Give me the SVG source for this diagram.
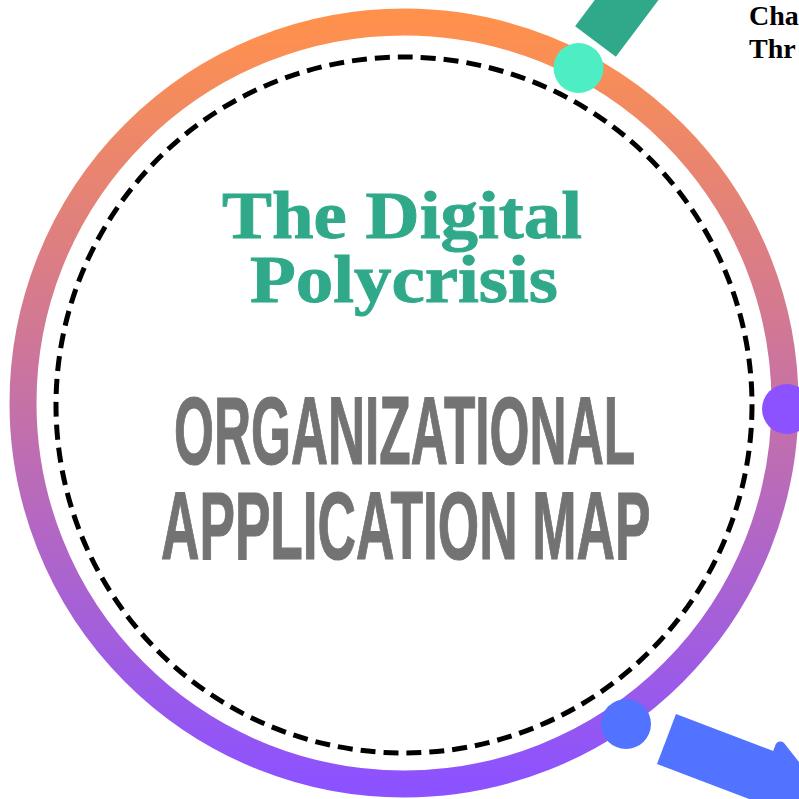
<svg xmlns="http://www.w3.org/2000/svg" width="799" height="799" viewBox="0 0 799 799">
  <defs>
    <linearGradient id="ringGrad" gradientUnits="userSpaceOnUse" x1="0" y1="22" x2="0" y2="784">
      <stop offset="0" stop-color="#FF914D"/>
      <stop offset="1" stop-color="#8C52FF"/>
    </linearGradient>
    <style>
      .title { font-family: "Liberation Serif", "DejaVu Serif", serif; font-weight: bold; fill: #30A98A; stroke: #30A98A; stroke-width: 0.8px; font-size: 58px; }
      .sub { font-family: "Liberation Sans", "DejaVu Sans", sans-serif; font-weight: bold; fill: #737373; stroke: #737373; stroke-width: 1px; font-size: 78px; }
      .side { font-family: "Liberation Serif", "DejaVu Serif", serif; font-weight: bold; fill: #000000; font-size: 28px; }
      .node-dot { stroke: none; }
    </style>
  </defs>
  <rect width="799" height="799" fill="#FFFFFF"/>

  <g id="ring">
    <circle cx="404" cy="403" r="381" fill="none" stroke="url(#ringGrad)" stroke-width="27"/>
    <circle cx="404" cy="405" r="348" fill="none" stroke="#000000" stroke-width="5" stroke-dasharray="15 8"/>
  </g>

  <g id="connectors">
    <g transform="translate(595.5,41.5) rotate(-53.13)" fill="#30A98A">
      <rect x="0" y="-25.5" width="110" height="51"/>
    </g>
    <g transform="translate(666.5,739) rotate(20.8)" fill="#5273FF">
      <rect x="0" y="-26.75" width="110" height="53.5"/>
      <polygon points="109,-33.5 109,33.5 165,0" stroke="#5273FF" stroke-width="10" stroke-linejoin="round"/>
    </g>
  </g>

  <g id="title">
    <text class="title" transform="translate(222,238) scale(1,1.17)" x="0" y="0" textLength="360" lengthAdjust="spacingAndGlyphs">The Digital</text>
    <text class="title" transform="translate(250,302) scale(1,1.17)" x="0" y="0" textLength="308" lengthAdjust="spacingAndGlyphs">Polycrisis</text>
  </g>

  <g id="subtitle">
    <text class="sub" transform="translate(174,464) scale(0.654,1.24)" x="0" y="0" textLength="705" lengthAdjust="spacingAndGlyphs">ORGANIZATIONAL</text>
    <text class="sub" transform="translate(161,559) scale(0.666,1.24)" x="0" y="0" textLength="735" lengthAdjust="spacingAndGlyphs">APPLICATION MAP</text>
  </g>

  <g id="node-teal">
    <circle class="node-dot" cx="578.5" cy="68" r="25" fill="#4EEEC5"/>
  </g>
  <g id="node-purple">
    <circle class="node-dot" cx="787" cy="409" r="25" fill="#8C52FF"/>
  </g>
  <g id="node-blue">
    <circle class="node-dot" cx="626" cy="724" r="25" fill="#5273FF"/>
  </g>

  <g id="label-top-right">
    <text class="side" x="749" y="25">Cha</text>
    <text class="side" x="749" y="58">Thr</text>
  </g>
</svg>
